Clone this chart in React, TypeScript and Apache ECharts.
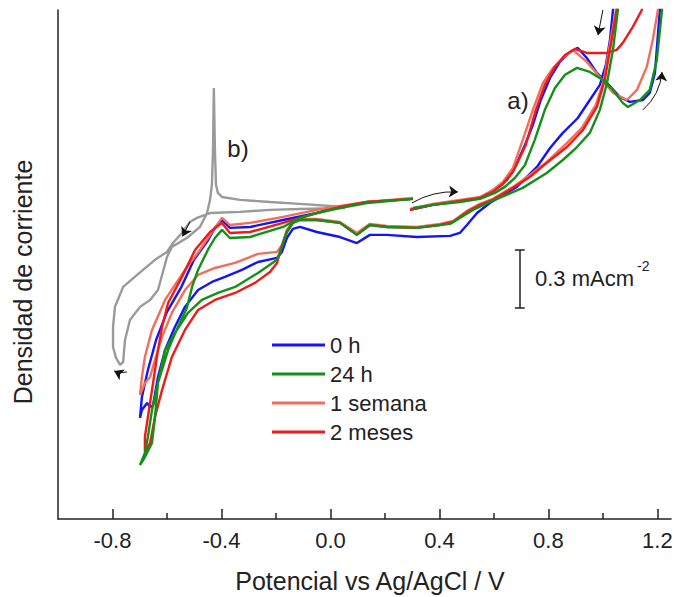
import React, { useEffect, useRef } from 'react';
import * as echarts from 'echarts';

const FONT = '"Liberation Sans", Arial, Helvetica, sans-serif';

// Tick positions of the potential axis (V)
const xTickLabels = [-0.8, -0.4, 0.0, 0.4, 0.8, 1.2];
const xMinorTicks = [-0.6, -0.2, 0.2, 0.6, 1.0];

const seriesNames = ['0 h', '24 h', '1 semana', '2 meses'];

// a) coated samples: potential (V vs Ag/AgCl), current density (mA cm-2, arbitrary zero)
const curve0h = [
  [0.292, 1.597], [0.376, 1.623], [0.475, 1.643], [0.549, 1.659], [0.585, 1.69], [0.622, 1.721],
  [0.648, 1.752], [0.681, 1.829], [0.714, 1.933], [0.743, 2.036], [0.772, 2.165], [0.806, 2.279],
  [0.842, 2.362], [0.879, 2.413], [0.908, 2.434], [0.941, 2.382], [0.978, 2.305], [1.015, 2.253],
  [1.062, 2.181], [1.099, 2.155], [1.147, 2.165], [1.172, 2.202], [1.191, 2.305], [1.209, 2.63],
  [1.217, 2.786],
  [1.048, 2.786], [1.037, 2.63], [1.026, 2.475], [1.011, 2.346], [0.989, 2.243], [0.952, 2.165],
  [0.908, 2.072], [0.853, 1.995], [0.806, 1.917], [0.758, 1.819], [0.684, 1.716], [0.585, 1.633],
  [0.538, 1.581], [0.501, 1.519], [0.475, 1.478], [0.439, 1.463], [0.317, 1.457], [0.207, 1.468],
  [0.145, 1.468], [0.097, 1.426], [0.035, 1.457], [-0.05, 1.483], [-0.112, 1.509], [-0.138, 1.499],
  [-0.16, 1.452], [-0.178, 1.38], [-0.196, 1.349], [-0.266, 1.328], [-0.325, 1.287], [-0.387, 1.251],
  [-0.435, 1.225], [-0.486, 1.183], [-0.534, 1.096], [-0.571, 0.992], [-0.607, 0.873], [-0.633, 0.734],
  [-0.651, 0.589], [-0.662, 0.579], [-0.673, 0.599], [-0.692, 0.563], [-0.699, 0.522],
  [-0.692, 0.63], [-0.67, 0.77], [-0.64, 0.925], [-0.6, 1.07], [-0.549, 1.194], [-0.501, 1.339],
  [-0.453, 1.432], [-0.424, 1.504], [-0.398, 1.545], [-0.369, 1.504], [-0.295, 1.509], [-0.174, 1.545],
  [-0.05, 1.581], [0.035, 1.612], [0.134, 1.638], [0.303, 1.654],
];

const curve24h = [
  [0.303, 1.607], [0.376, 1.623], [0.475, 1.638], [0.549, 1.654], [0.604, 1.685], [0.64, 1.716],
  [0.677, 1.762], [0.714, 1.829], [0.75, 1.959], [0.787, 2.114], [0.824, 2.227], [0.861, 2.295],
  [0.905, 2.331], [0.952, 2.31], [1.0, 2.269], [1.037, 2.217], [1.073, 2.15], [1.092, 2.129],
  [1.136, 2.165], [1.172, 2.217], [1.198, 2.372], [1.217, 2.63], [1.22, 2.786],
  [1.062, 2.786], [1.055, 2.63], [1.037, 2.424], [1.015, 2.253], [0.989, 2.114], [0.952, 1.995],
  [0.905, 1.922], [0.853, 1.855], [0.794, 1.788], [0.706, 1.711], [0.585, 1.638], [0.523, 1.597],
  [0.475, 1.556], [0.439, 1.525], [0.317, 1.504], [0.207, 1.509], [0.145, 1.519], [0.097, 1.468],
  [0.035, 1.53], [-0.05, 1.545], [-0.112, 1.545], [-0.138, 1.53], [-0.16, 1.483], [-0.185, 1.38],
  [-0.196, 1.339], [-0.266, 1.271], [-0.35, 1.199], [-0.413, 1.168], [-0.472, 1.132], [-0.523, 1.065],
  [-0.571, 0.961], [-0.607, 0.873], [-0.633, 0.703], [-0.644, 0.527], [-0.655, 0.393], [-0.681, 0.32],
  [-0.699, 0.279],
  [-0.681, 0.341], [-0.67, 0.424], [-0.655, 0.563], [-0.633, 0.703], [-0.596, 0.873], [-0.56, 0.992],
  [-0.527, 1.09], [-0.508, 1.199], [-0.486, 1.287], [-0.45, 1.39], [-0.424, 1.452], [-0.398, 1.494],
  [-0.369, 1.452], [-0.295, 1.457], [-0.174, 1.509], [-0.112, 1.556], [-0.05, 1.581], [0.035, 1.607],
  [0.134, 1.633], [0.303, 1.654],
];

const curve1semana = [
  [0.292, 1.602], [0.376, 1.628], [0.475, 1.649], [0.549, 1.664], [0.596, 1.7], [0.633, 1.742],
  [0.67, 1.814], [0.706, 1.959], [0.743, 2.114], [0.78, 2.253], [0.817, 2.331], [0.853, 2.382],
  [0.89, 2.424], [0.941, 2.362], [0.989, 2.284], [1.037, 2.202], [1.088, 2.165], [1.125, 2.217],
  [1.161, 2.336], [1.183, 2.475], [1.202, 2.63], [1.209, 2.786],
  [1.055, 2.786], [1.048, 2.63], [1.022, 2.424], [1.004, 2.269], [0.974, 2.14], [0.923, 2.021],
  [0.861, 1.933], [0.794, 1.845], [0.732, 1.778], [0.67, 1.716], [0.596, 1.654], [0.549, 1.628],
  [0.501, 1.592], [0.45, 1.54], [0.402, 1.525], [0.317, 1.509], [0.207, 1.514], [0.145, 1.525],
  [0.097, 1.478], [0.035, 1.535], [-0.05, 1.55], [-0.112, 1.55], [-0.138, 1.535], [-0.16, 1.494],
  [-0.178, 1.416], [-0.196, 1.38], [-0.266, 1.37], [-0.35, 1.323], [-0.424, 1.297], [-0.486, 1.261],
  [-0.534, 1.183], [-0.582, 1.065], [-0.618, 0.941], [-0.644, 0.822], [-0.662, 0.734], [-0.681, 0.703],
  [-0.699, 0.641],
  [-0.692, 0.734], [-0.681, 0.837], [-0.655, 0.977], [-0.607, 1.132], [-0.534, 1.287], [-0.479, 1.39],
  [-0.435, 1.483], [-0.398, 1.556], [-0.369, 1.519], [-0.295, 1.53], [-0.174, 1.561], [-0.05, 1.597],
  [0.035, 1.618], [0.134, 1.638], [0.303, 1.659],
];

const curve2meses = [
  [0.292, 1.597], [0.376, 1.623], [0.475, 1.643], [0.549, 1.659], [0.596, 1.69], [0.633, 1.731],
  [0.67, 1.793], [0.717, 1.933], [0.754, 2.114], [0.787, 2.243], [0.824, 2.336], [0.861, 2.398],
  [0.897, 2.429], [0.941, 2.408], [1.015, 2.408], [1.051, 2.424], [1.073, 2.46], [1.11, 2.543],
  [1.143, 2.63], [1.154, 2.786],
  [1.059, 2.786], [1.051, 2.63], [1.026, 2.424], [1.007, 2.269], [0.978, 2.129], [0.927, 2.01],
  [0.868, 1.922], [0.794, 1.84], [0.732, 1.767], [0.67, 1.711], [0.596, 1.649], [0.549, 1.623],
  [0.501, 1.587], [0.45, 1.535], [0.402, 1.519], [0.317, 1.504], [0.207, 1.509], [0.145, 1.519],
  [0.097, 1.468], [0.035, 1.53], [-0.05, 1.545], [-0.112, 1.545], [-0.138, 1.53], [-0.16, 1.483],
  [-0.185, 1.38], [-0.196, 1.323], [-0.222, 1.276], [-0.277, 1.22], [-0.35, 1.168], [-0.424, 1.132],
  [-0.486, 1.08], [-0.534, 0.977], [-0.582, 0.837], [-0.618, 0.667], [-0.644, 0.527], [-0.662, 0.393],
  [-0.681, 0.346],
  [-0.681, 0.424], [-0.67, 0.527], [-0.651, 0.703], [-0.633, 0.873], [-0.618, 0.992], [-0.596, 1.116],
  [-0.545, 1.251], [-0.497, 1.39], [-0.442, 1.483], [-0.398, 1.53], [-0.369, 1.478], [-0.295, 1.483],
  [-0.174, 1.53], [-0.05, 1.581], [0.035, 1.612], [0.134, 1.638], [0.303, 1.654],
];

// b) reference curve (gray)
const curveB = [
  [0.053, 1.607], [-0.112, 1.602], [-0.222, 1.597], [-0.332, 1.587], [-0.442, 1.581], [-0.49, 1.556],
  [-0.516, 1.535], [-0.545, 1.478], [-0.578, 1.426], [-0.6, 1.38], [-0.644, 1.339], [-0.688, 1.287],
  [-0.761, 1.199], [-0.791, 1.096], [-0.798, 0.992], [-0.798, 0.889], [-0.787, 0.832], [-0.772, 0.796],
  [-0.761, 0.811], [-0.754, 0.925], [-0.736, 1.028], [-0.699, 1.096], [-0.662, 1.132], [-0.633, 1.183],
  [-0.615, 1.276], [-0.6, 1.354], [-0.582, 1.406], [-0.527, 1.452], [-0.479, 1.509], [-0.453, 1.581],
  [-0.442, 1.649], [-0.435, 1.726], [-0.431, 1.907], [-0.428, 2.227], [-0.424, 1.907], [-0.42, 1.726],
  [-0.413, 1.685], [-0.398, 1.664], [-0.332, 1.649], [-0.222, 1.638], [-0.112, 1.628], [0.053, 1.612],
];

// scan-direction arrows (from, to, curveness)
const arrowFrom = [[0.299, 1.633], [1.0, 2.63], [1.147, 2.114], [-0.516, 1.535], [-0.747, 0.76]];
const arrowTo = [[0.468, 1.69], [0.982, 2.5], [1.217, 2.31], [-0.543, 1.46], [-0.794, 0.765]];
const arrowCurve = [0.15, 0, -0.2, 0, 0.2];

// scale bar: 0.3 mA cm-2
const scaleBarX = 0.695;
const scaleBarTop = 1.39;
const scaleBarSize = 0.3;
const scaleCapHalf = 0.018;

const COLORS = ['#1414f5', '#14901a', '#f26e58', '#ef1a1a'];

export default function App() {
  const ref = useRef<HTMLDivElement>(null);

  useEffect(() => {
    if (!ref.current) return;
    const chart = echarts.init(ref.current, undefined, { renderer: 'svg' });

    const mk = (name: string, data: number[][], color: string, z: number) => ({
      type: 'line',
      name,
      data,
      symbol: 'none',
      showSymbol: false,
      clip: true,
      z,
      lineStyle: { color, width: 2.4 },
      itemStyle: { color },
    });

    const arrows = arrowFrom.map((f, i) => ({
      coords: [f, arrowTo[i]],
      lineStyle: { curveness: arrowCurve[i] },
    }));

    const sbBottom = scaleBarTop - scaleBarSize;
    const scaleBar = [
      { coords: [[scaleBarX, scaleBarTop], [scaleBarX, sbBottom]] },
      { coords: [[scaleBarX - scaleCapHalf, scaleBarTop], [scaleBarX + scaleCapHalf, scaleBarTop]] },
      { coords: [[scaleBarX - scaleCapHalf, sbBottom], [scaleBarX + scaleCapHalf, sbBottom]] },
    ];

    const option: any = {
      animation: false,
      backgroundColor: '#ffffff',
      textStyle: { fontFamily: FONT },
      grid: { left: 58, right: 3, top: 10, bottom: 78, containLabel: false, outerBoundsMode: 'none' },
      legend: {
        data: seriesNames,
        orient: 'vertical',
        left: 267,
        top: 329,
        itemWidth: 53,
        itemHeight: 3,
        itemGap: 7,
        icon: 'rect',
        textStyle: { fontSize: 22, color: '#222', fontFamily: FONT, lineHeight: 22, padding: [0, 0, 0, 0] },
      },
      xAxis: [
        {
          type: 'value',
          min: -1.0,
          max: 1.25,
          position: 'bottom',
          axisLine: { show: true, onZero: false, lineStyle: { color: '#222', width: 1.5 } },
          axisTick: { show: true, inside: true, length: 10, customValues: xTickLabels, lineStyle: { color: '#222', width: 1.5 } },
          axisLabel: {
            show: true,
            customValues: xTickLabels,
            formatter: (v: number) => v.toFixed(1),
            fontSize: 22,
            color: '#222',
            margin: 10,
            fontFamily: FONT,
          },
          splitLine: { show: false },
        },
        {
          type: 'value',
          min: -1.0,
          max: 1.25,
          position: 'bottom',
          offset: 0,
          axisLine: { show: false },
          axisTick: { show: true, inside: true, length: 6, customValues: xMinorTicks, lineStyle: { color: '#222', width: 1.5 } },
          axisLabel: { show: false },
          splitLine: { show: false },
        },
      ],
      yAxis: {
        type: 'value',
        min: 0,
        max: 2.63,
        axisLine: { show: true, onZero: false, lineStyle: { color: '#222', width: 1.5 } },
        axisTick: { show: false },
        axisLabel: { show: false },
        splitLine: { show: false },
      },
      series: [
        mk('b)', curveB, '#9a9a9a', 2),
        mk(seriesNames[0], curve0h, COLORS[0], 3),
        mk(seriesNames[2], curve1semana, COLORS[2], 4),
        mk(seriesNames[3], curve2meses, COLORS[3], 5),
        mk(seriesNames[1], curve24h, COLORS[1], 6),
        {
          type: 'lines',
          coordinateSystem: 'cartesian2d',
          z: 8,
          symbol: ['none', 'arrow'],
          symbolSize: 9,
          lineStyle: { color: '#111', width: 1, opacity: 1 },
          data: arrows,
          silent: true,
        },
        {
          type: 'lines',
          coordinateSystem: 'cartesian2d',
          z: 8,
          symbol: ['none', 'none'],
          lineStyle: { color: '#222', width: 1.5, opacity: 1 },
          data: scaleBar,
          silent: true,
        },
      ],
      graphic: [
        { type: 'text', x: 518, y: 100, style: { text: 'a)', fill: '#222', font: `24px ${FONT}`, align: 'center', verticalAlign: 'middle' } },
        { type: 'text', x: 238, y: 148, style: { text: 'b)', fill: '#222', font: `24px ${FONT}`, align: 'center', verticalAlign: 'middle' } },
        { type: 'text', x: 535, y: 278, style: { text: '0.3 mAcm', fill: '#222', font: `22px ${FONT}`, align: 'left', verticalAlign: 'middle' } },
        { type: 'text', x: 637, y: 266, style: { text: '-2', fill: '#222', font: `14px ${FONT}`, align: 'left', verticalAlign: 'middle' } },
        { type: 'text', x: 370, y: 581, style: { text: 'Potencial vs Ag/AgCl / V', fill: '#222', font: `25px ${FONT}`, align: 'center', verticalAlign: 'middle' } },
        { type: 'text', x: 23, y: 282, rotation: Math.PI / 2, style: { text: 'Densidad de corriente', fill: '#222', font: `25px ${FONT}`, align: 'center', verticalAlign: 'middle' } },
      ],
    };

    chart.setOption(option);
    return () => chart.dispose();
  }, []);

  return (
    <div
      ref={ref}
      style={{ position: 'fixed', left: 0, top: 0, width: 674, height: 597, background: '#fff' }}
    />
  );
}
